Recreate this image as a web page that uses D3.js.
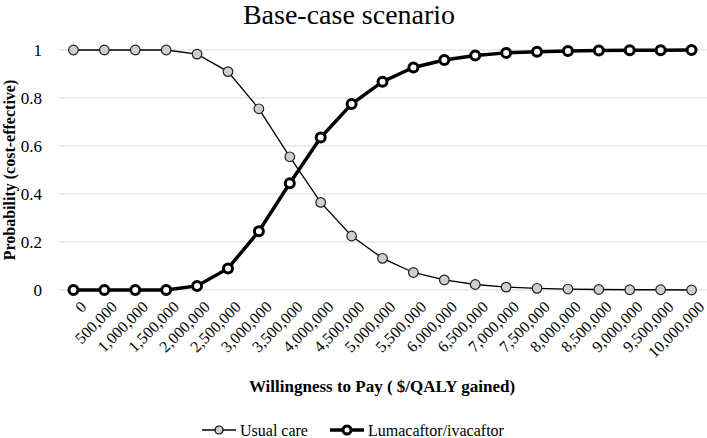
<!DOCTYPE html>
<html>
<head>
<meta charset="utf-8">
<script src="https://cdn.jsdelivr.net/npm/d3@7"></script>
<style>
body { margin: 0; background: #fff; }
svg text { font-family: "Liberation Serif", "Times New Roman", serif !important; }
</style>
</head>
<body>
<svg id="chart" width="707" height="438"></svg>
<script>
// willingness to pay categories ($/QALY)
let wtp = ['0', '500,000', '1,000,000', '1,500,000', '2,000,000', '2,500,000', '3,000,000', '3,500,000',
    '4,000,000', '4,500,000', '5,000,000', '5,500,000', '6,000,000', '6,500,000', '7,000,000', '7,500,000',
    '8,000,000', '8,500,000', '9,000,000', '9,500,000', '10,000,000'];
let usualCare = [1, 1, 1, 1, 0.983, 0.91, 0.755, 0.555, 0.365, 0.225, 0.132, 0.073, 0.042, 0.023, 0.012, 0.007, 0.004, 0.002, 0.001, 0.001, 0];
let lumacaftor = [0, 0, 0, 0, 0.017, 0.09, 0.245, 0.445, 0.635, 0.775, 0.868, 0.927, 0.958, 0.977, 0.988, 0.993, 0.996, 0.998, 0.999, 0.999, 1];
let yTicks = [0, 0.2, 0.4, 0.6, 0.8, 1];

let fontStack = '"Liberation Serif", "Times New Roman", serif';

//chart constants
let totalWidth = 707;
let totalHeight = 438;
let margins = { top: 50, right: 0, bottom: 148, left: 58 };

let svg = d3.select('#chart');

let xScale = d3.scaleBand()
    .domain(wtp)
    .range([margins.left, totalWidth - margins.right]);

let yScale = d3.scaleLinear()
    .domain([0, 1])
    .range([290, 50]);

let xPos = function(d, i){ return xScale(wtp[i]) + xScale.bandwidth() / 2 };

//gridlines
svg.append('g')
    .selectAll('line')
    .data(yTicks)
    .enter()
    .append('line')
    .attr('x1', margins.left)
    .attr('x2', totalWidth - margins.right)
    .attr('y1', d => yScale(d))
    .attr('y2', d => yScale(d))
    .attr('stroke', '#d9d9d9')
    .attr('stroke-width', 1);

//y axis labels
let yAxis = d3.axisLeft(yScale).tickValues(yTicks).tickSize(0).tickPadding(0).tickFormat(d3.format('~g'));
let yG = svg.append('g')
    .attr('transform', 'translate(42,0)')
    .call(yAxis)
    .attr('font-family', null);
yG.select('.domain').remove();
yG.selectAll('text')
    .style('font-family', fontStack, 'important')
    .style('font-size', '17px')
    .attr('fill', '#000');

//x axis labels, rotated
let xAxis = d3.axisBottom(xScale).tickSize(0).tickPadding(0);
let xG = svg.append('g')
    .attr('transform', 'translate(0,298)')
    .call(xAxis)
    .attr('font-family', null);
xG.select('.domain').remove();
xG.selectAll('text')
    .style('font-family', fontStack, 'important')
    .style('font-size', '16px')
    .attr('fill', '#000')
    .attr('text-anchor', 'end')
    .attr('dy', '0.7em')
    .attr('transform', 'translate(6,2) rotate(-45)');

//lines
let line = d3.line()
    .x(xPos)
    .y(d => yScale(d));

svg.append('path')
    .datum(usualCare)
    .attr('d', line)
    .attr('fill', 'none')
    .attr('stroke', '#000')
    .attr('stroke-width', 1.3);

svg.append('path')
    .datum(lumacaftor)
    .attr('d', line)
    .attr('fill', 'none')
    .attr('stroke', '#000')
    .attr('stroke-width', 3.5);

svg.append('g')
    .selectAll('circle')
    .data(usualCare)
    .enter()
    .append('circle')
    .attr('cx', xPos)
    .attr('cy', d => yScale(d))
    .attr('r', 4.8)
    .attr('fill', '#cfcfcf')
    .attr('stroke', '#222')
    .attr('stroke-width', 1.2);

svg.append('g')
    .selectAll('circle')
    .data(lumacaftor)
    .enter()
    .append('circle')
    .attr('cx', xPos)
    .attr('cy', d => yScale(d))
    .attr('r', 4.5)
    .attr('fill', '#fff')
    .attr('stroke', '#000')
    .attr('stroke-width', 3);

//title and axis titles
svg.append('text')
    .attr('x', 349)
    .attr('y', 24)
    .attr('text-anchor', 'middle')
    .style('font-family', fontStack, 'important')
    .style('font-size', '28px')
    .text('Base-case scenario');

svg.append('text')
    .attr('transform', 'translate(15,170) rotate(-90)')
    .attr('text-anchor', 'middle')
    .style('font-family', fontStack, 'important')
    .style('font-size', '16px')
    .style('font-weight', 'bold')
    .text('Probability (cost-effective)');

svg.append('text')
    .attr('x', 382)
    .attr('y', 392)
    .attr('text-anchor', 'middle')
    .style('font-family', fontStack, 'important')
    .style('font-size', '17px')
    .style('font-weight', 'bold')
    .text('Willingness to Pay ( $/QALY gained)');

//legend
let legendItems = [
    { name: 'Usual care', x: 202, width: 1.3, fill: '#cfcfcf', sw: 1.2, r: 4 },
    { name: 'Lumacaftor/ivacaftor', x: 330, width: 3.5, fill: '#fff', sw: 3, r: 4 }
];
let legend = svg.append('g')
    .selectAll('g')
    .data(legendItems)
    .enter()
    .append('g')
    .attr('transform', d => `translate(${d.x},430)`);
legend.append('line')
    .attr('x1', 0).attr('x2', 34)
    .attr('stroke', '#000')
    .attr('stroke-width', d => d.width);
legend.append('circle')
    .attr('cx', 17)
    .attr('r', d => d.r)
    .attr('fill', d => d.fill)
    .attr('stroke', '#000')
    .attr('stroke-width', d => d.sw);
legend.append('text')
    .attr('x', 38)
    .attr('dy', '0.35em')
    .style('font-family', fontStack, 'important')
    .style('font-size', '16px')
    .text(d => d.name);
</script>
</body>
</html>
